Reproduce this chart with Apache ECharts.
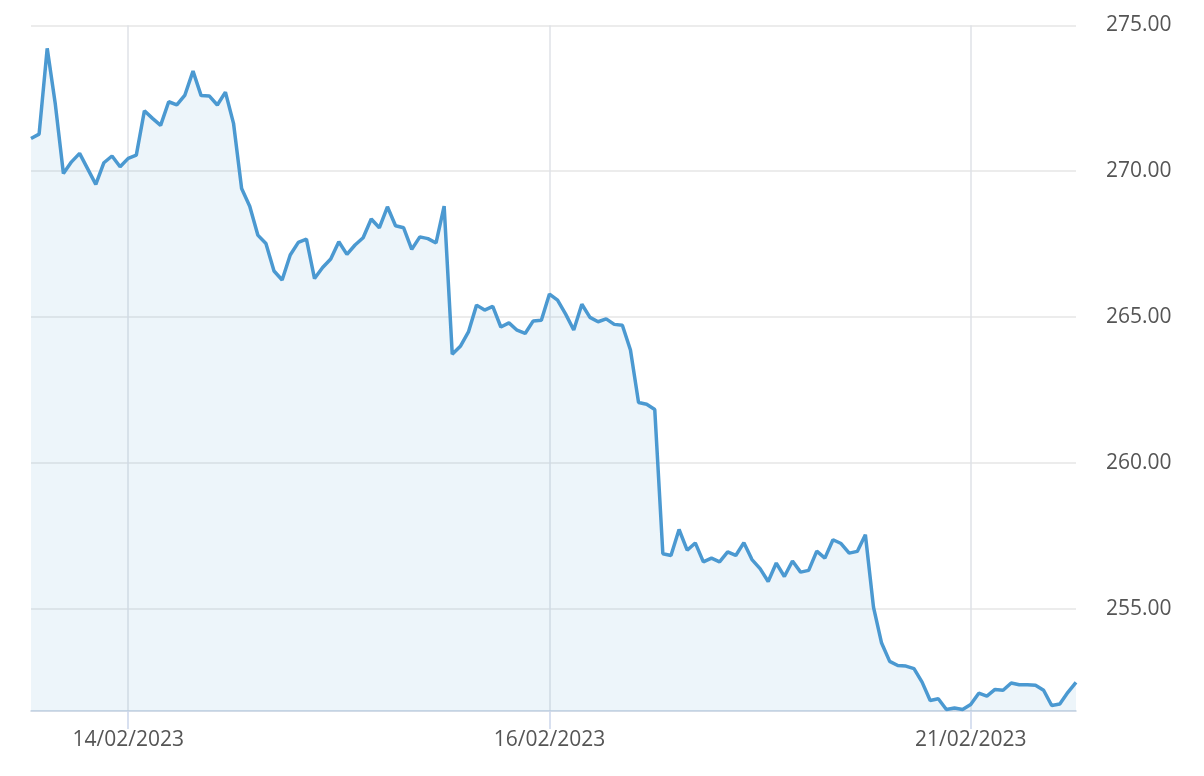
<!DOCTYPE html>
<html>
<head>
<meta charset="utf-8">
<script src="https://cdn.jsdelivr.net/npm/echarts@6/dist/echarts.min.js"></script>
<style>
html,body{margin:0;padding:0;background:#fff;}
#chart{width:1204px;height:776px;}
</style>
</head>
<body>
<div id="chart"></div>
<script>
// Trading sessions shown (20/02/2023 market holiday)
const sessionDays = ['13/02/2023','14/02/2023','15/02/2023','16/02/2023','17/02/2023','21/02/2023'];
const sessionTimes = ['09:30','09:45','10:00','10:15','10:30','10:45','11:00','11:15','11:30','11:45','12:00','12:15','12:30','12:45','13:00','13:15','13:30','13:45','14:00','14:15','14:30','14:45','15:00','15:15','15:30','15:45'];
const firstTime = '13:00';
const pointCount = 130;
const tickLabels = ['14/02/2023','16/02/2023','21/02/2023'];
const yTicks = [255, 260, 265, 270, 275];

const prices = [
  271.12, 271.27, 274.21, 272.30, 269.92, 270.32, 270.61, 270.08, 269.55, 270.29,
  270.52, 270.15, 270.44, 270.55, 272.07, 271.81, 271.57, 272.38, 272.27, 272.61,
  273.43, 272.59, 272.58, 272.27, 272.71, 271.64, 269.41, 268.80, 267.81, 267.52,
  266.58, 266.27, 267.13, 267.56, 267.67, 266.32, 266.70, 266.99, 267.58, 267.15,
  267.47, 267.72, 268.36, 268.06, 268.78, 268.13, 268.06, 267.32, 267.75, 267.69,
  267.54, 268.80, 263.73, 264.00, 264.49, 265.41, 265.24, 265.37, 264.66, 264.80,
  264.55, 264.44, 264.87, 264.89, 265.79, 265.58, 265.10, 264.56, 265.44, 264.99,
  264.84, 264.94, 264.75, 264.72, 263.87, 262.07, 262.01, 261.83, 256.89, 256.83,
  257.72, 257.01, 257.26, 256.61, 256.74, 256.61, 256.95, 256.83, 257.27, 256.69,
  256.38, 255.94, 256.57, 256.11, 256.64, 256.26, 256.32, 256.98, 256.74, 257.37,
  257.24, 256.91, 256.97, 257.54, 255.06, 253.83, 253.20, 253.06, 253.04, 252.95,
  252.49, 251.86, 251.92, 251.55, 251.60, 251.55, 251.72, 252.11, 252.01, 252.24,
  252.21, 252.46, 252.40, 252.40, 252.38, 252.21, 251.69, 251.74, 252.14, 252.48
];

// build category list (date + time)
const allCats = [];
sessionDays.forEach(d => sessionTimes.forEach(t => allCats.push(d + ' ' + t)));
const startIdx = allCats.indexOf(sessionDays[0] + ' ' + firstTime);
const categories = allCats.slice(startIdx, startIdx + pointCount);

const labelIdx = new Set(tickLabels.map(d => categories.indexOf(d + ' ' + sessionTimes[0])));
const showAt = (i) => labelIdx.has(i);

const lineColor = '#4b99d1';
const chart = echarts.init(document.getElementById('chart'), null, {renderer: 'canvas'});
chart.setOption({
  animation: false,
  backgroundColor: '#ffffff',
  grid: {left: 31, right: 128, top: 25.3, bottom: 65, outerBoundsMode: 'none'},
  xAxis: {
    type: 'category',
    data: categories,
    boundaryGap: false,
    axisLine: {show: true, lineStyle: {color: '#c3cfe0', width: 1.5}},
    axisTick: {show: true, interval: showAt, length: 18, lineStyle: {color: '#ccd6eb', width: 1.5}},
    axisLabel: {
      interval: showAt,
      margin: 19,
      fontFamily: 'Open Sans',
      fontSize: 21,
      color: '#555555',
      formatter: (v) => v.split(' ')[0]
    },
    splitLine: {show: true, interval: showAt, lineStyle: {color: '#dfe2e7', width: 1.5}}
  },
  yAxis: {
    type: 'value',
    position: 'right',
    min: 251.5,
    max: 275,
    axisLine: {show: false},
    axisTick: {show: false, customValues: yTicks},
    axisLabel: {
      customValues: yTicks,
      margin: 30,
      fontFamily: 'Open Sans',
      fontSize: 21,
      color: '#555555',
      formatter: (v) => v.toFixed(2)
    },
    splitLine: {show: true, lineStyle: {color: '#e6e6e6', width: 1.5}}
  },
  series: [{
    type: 'line',
    data: prices,
    symbol: 'none',
    clip: true,
    lineStyle: {color: lineColor, width: 3.5},
    areaStyle: {color: lineColor, opacity: 0.1}
  }]
});
</script>
</body>
</html>
